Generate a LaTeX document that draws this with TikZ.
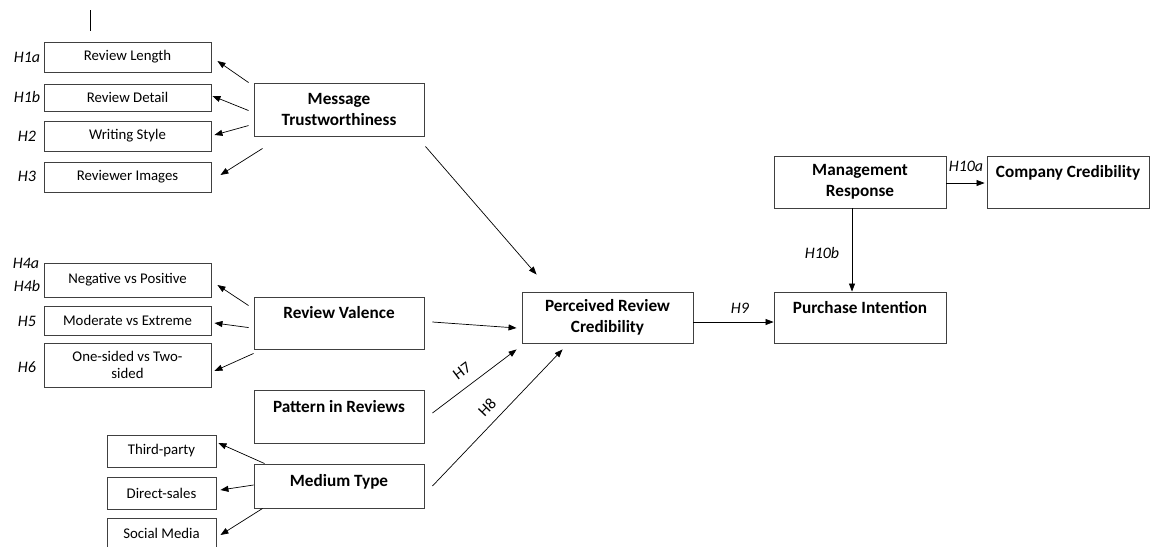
\documentclass[tikz,border=0pt]{standalone}
\usepackage{fontspec}
\setmainfont{Carlito}
\usetikzlibrary{arrows.meta,calc}
\definecolor{boxline}{HTML}{404040}
\begin{document}
\begin{tikzpicture}[x=1pt,y=-1pt,
  box/.style={draw=boxline,line width=0.9pt,inner sep=0pt,rectangle},
  sbox/.style={box,font=\fontsize{14.8}{17}\selectfont,align=center},
  btxt/.style={font=\bfseries\fontsize{17.2}{21}\selectfont,align=center,inner sep=0pt},
  hlab/.style={font=\itshape\fontsize{16}{18}\selectfont,inner sep=0pt},
  hrot/.style={font=\fontsize{16}{18}\selectfont,inner sep=0pt},
  arr/.style={-{Triangle[length=8pt,width=6pt]},line width=0.7pt,black}]
\useasboundingbox (0,0) rectangle (1150,546);
% stray vertical line
\draw[line width=0.8pt] (90,10) -- (90,31);
% small boxes left
\node[sbox,minimum width=167pt,minimum height=30pt] (rl) at (127.5,57) {Review Length};
\node[sbox,minimum width=167pt,minimum height=27pt] (rd) at (127.5,97.5) {Review Detail};
\node[sbox,minimum width=167pt,minimum height=30pt] (ws) at (127.5,136) {Writing Style};
\node[sbox,minimum width=167pt,minimum height=30pt] (ri) at (127.5,177) {Reviewer Images};
\node[sbox,minimum width=167pt,minimum height=34pt] (nvp) at (127.5,280) {Negative vs Positive};
\node[sbox,minimum width=167pt,minimum height=29pt] (mve) at (127.5,320.5) {Moderate vs Extreme};
\node[sbox,minimum width=167pt,minimum height=44pt] (os) at (127.5,365) {One-sided vs Two-\\sided};
\node[sbox,minimum width=109pt,minimum height=32pt] (tp) at (161.5,451) {Third-party};
\node[sbox,minimum width=109pt,minimum height=32pt] (ds) at (161.5,493) {Direct-sales};
\node[box,minimum width=109pt,minimum height=34pt] (sm) at (161.5,535) {};
\node[font=\fontsize{14.8}{17}\selectfont,inner sep=0pt] (smt) at (161.5,533) {Social Media};
% big boxes
\node[box,minimum width=170pt,minimum height=53pt] (mt) at (339,109.5) {};
\node[btxt] (mtt) at (mt.center) {Message\\Trustworthiness};
\node[box,minimum width=170pt,minimum height=52pt] (rv) at (339,323) {};
\node[btxt] (rvt) at ($(rv.north)+(0,16)$) {Review Valence};
\node[box,minimum width=170pt,minimum height=53pt] (pir) at (339,416.5) {};
\node[btxt] (pirt) at ($(pir.north)+(0,17)$) {Pattern in Reviews};
\node[box,minimum width=170pt,minimum height=44pt] (mty) at (339,486) {};
\node[btxt] (mtyt) at ($(mty.north)+(0,18)$) {Medium Type};
\node[box,minimum width=171pt,minimum height=51pt] (prc) at (607.5,317.5) {};
\node[btxt] (prct) at (prc.center) {Perceived Review\\Credibility};
\node[box,minimum width=172pt,minimum height=51pt] (pi) at (860,317.5) {};
\node[btxt] (pit) at ($(pi.north)+(0,16)$) {Purchase Intention};
\node[box,minimum width=172pt,minimum height=52pt] (mr) at (860,182) {};
\node[btxt] (mrt) at (mr.center) {Management\\Response};
\node[box,minimum width=162pt,minimum height=52pt] (cc) at (1068,182) {};
\node[btxt] (cct) at ($(cc.north)+(0,17)$) {Company Credibility};
% hypothesis labels
\node[hlab] (h1a) at (27,57) {H1a};
\node[hlab] (h1b) at (27,97) {H1b};
\node[hlab] (h2) at (27,136) {H2};
\node[hlab] (h3) at (27,176) {H3};
\node[hlab] (h4a) at (26,263) {H4a};
\node[hlab] (h4b) at (27,286) {H4b};
\node[hlab] (h5) at (27,321) {H5};
\node[hlab] (h6) at (27,367) {H6};
\node[hlab] (h9) at (740,308) {H9};
\node[hlab] (h10a) at (966,166) {H10a};
\node[hlab] (h10b) at (822,253) {H10b};
\node[hrot,rotate=37] (h7) at (462,371) {H7};
\node[hrot,rotate=46] (h8) at (487,407) {H8};
% arrows message trustworthiness
\draw[arr] ($(mt.north west)+(-5,0)$) -- ($(rl.east)+(6,4)$);
\draw[arr] ($(mt.north west)+(-5,28)$) -- ($(rd.east)+(1,-1.5)$);
\draw[arr] ($(mt.north west)+(-5,43)$) -- ($(ws.east)+(3,-1)$);
\draw[arr] ($(mt.south west)+(9,12)$) -- ($(ri.east)+(9,-2)$);
\draw[arr] ($(mt.south east)+(1,10)$) -- ($(prc.north west)+(15,-17)$);
% review valence
\draw[arr] ($(rv.north west)+(-5,9)$) -- ($(nvp.east)+(6,5)$);
\draw[arr] ($(rv.north west)+(-5,31)$) -- ($(mve.east)+(3,2.5)$);
\draw[arr] ($(rv.south west)+(0,4)$) -- ($(os.east)+(3,6)$);
\draw[arr] ($(rv.east)+(8,-1)$) -- ($(prc.west)+(-5,10.5)$);
% pattern, medium
\draw[arr] ($(pir.east)+(8,-3.5)$) -- ($(prc.south west)+(-5,6)$);
\draw[arr] ($(mty.east)+(8,0)$) -- ($(prc.south west)+(41,6)$);
\draw[arr] ($(mty.north west)+(11,0)$) -- ($(tp.east)+(2,-8)$);
\draw[arr] ($(mty.west)+(0,-1)$) -- ($(ds.east)+(4,-3)$);
\draw[arr] ($(mty.south west)+(9,0)$) -- ($(sm.east)+(4,0)$);
% right side
\draw[arr] ($(prc.east)+(0,4.5)$) -- ($(pi.west)+(0,4.5)$);
\draw[arr] ($(mr.east)+(0,1)$) -- ($(cc.west)+(-2,1)$);
\draw[arr] ($(mr.south)+(-8,0)$) -- ($(pi.north)+(-8,0)$);
\end{tikzpicture}
\end{document}
